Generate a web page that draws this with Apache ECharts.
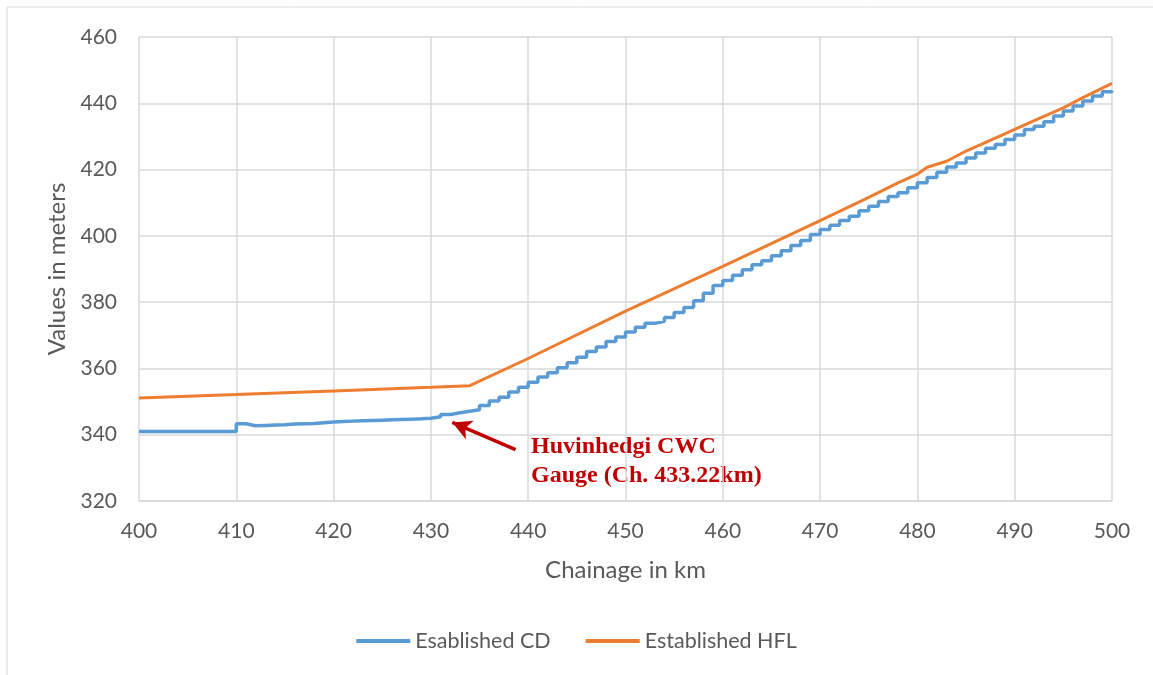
<!DOCTYPE html>
<html><head><meta charset="utf-8">
<script src="https://cdn.jsdelivr.net/npm/echarts@6/dist/echarts.min.js"></script>
<style>html,body{margin:0;padding:0;background:#fff}#c{width:1153px;height:675px}</style>
</head><body><div id="c"></div>
<script>
const cdKm = [400,410,411,412,413,414,415,416,417,418,419,420,421,422,423,424,425,426,427,428,429,430,431,432,433,434,435,436,437,438,439,440,441,442,443,444,445,446,447,448,449,450,451,452,453,454,455,456,457,458,459,460,461,462,463,464,465,466,467,468,469,470,471,472,473,474,475,476,477,478,479,480,481,482,483,484,485,486,487,488,489,490,491,492,493,494,495,496,497,498,499,500];
const cdVal = [341.0,343.3,342.7,342.8,342.9,343.0,343.2,343.3,343.4,343.6,343.8,344.0,344.1,344.2,344.3,344.4,344.5,344.6,344.7,344.8,345.0,345.4,346.1,346.6,347.1,347.5,348.8,350.2,351.3,352.9,354.3,355.8,357.4,358.7,360.2,361.7,363.4,365.1,366.5,368.1,369.5,371.0,372.4,373.6,374.2,375.4,376.9,378.4,380.4,382.7,385.0,386.5,388.1,389.8,391.3,392.5,394.0,395.5,397.1,398.6,400.4,401.9,403.2,404.6,405.9,407.6,408.9,410.4,411.9,413.0,414.5,416.0,417.6,419.2,420.8,422.0,423.5,425.0,426.4,427.6,429.1,430.4,432.1,433.1,434.4,436.2,437.7,439.2,440.7,442.2,443.5,443.8];
const hflKm = [400,410,420,430,434,440,450,460,470,475,478,480,481,483,485,488,490,492,495,497,500];
const hflVal = [351.1,352.1,353.2,354.3,354.8,363.0,377.3,390.8,404.6,411.6,416.0,418.6,420.7,422.5,425.6,429.5,432.1,434.8,438.6,441.7,446.0];
const seriesNames = ['Esablished CD','Established HFL'];
const annotationText = ['Huvinhedgi CWC','Gauge (Ch. 433.22km)'];
const arrowFrom = [438.7, 335.5];
const arrowTo = [432.2, 343.7];

const font = 'Lato, "Open Sans", sans-serif';
const chart = echarts.init(document.getElementById('c'));
chart.setOption({
  animation:false,
  backgroundColor:'#fff',
  grid:{left:139,right:41,top:37,bottom:174},
  xAxis:{type:'value',min:400,max:500,interval:10,
    name:'Chainage in km',nameLocation:'middle',nameGap:57,
    nameTextStyle:{color:'#595959',fontSize:24,fontFamily:font},
    axisLine:{show:true,lineStyle:{color:'#d9d9d9',width:1.5}},
    axisTick:{show:false},
    axisLabel:{color:'#595959',fontSize:21,fontFamily:font,margin:20},
    splitLine:{show:true,lineStyle:{color:'#d9d9d9',width:1.5}}},
  yAxis:{type:'value',min:320,max:460,interval:20,
    name:'Values in meters',nameLocation:'middle',nameGap:70,
    nameTextStyle:{color:'#595959',fontSize:24,fontFamily:font},
    axisLine:{show:false},axisTick:{show:false},
    axisLabel:{color:'#595959',fontSize:21,fontFamily:font,margin:22},
    splitLine:{show:true,lineStyle:{color:'#d9d9d9',width:1.5}}},
  legend:{bottom:18,left:'center',itemWidth:54,itemHeight:4,itemGap:35,
    textStyle:{color:'#595959',fontSize:21.5,fontFamily:font},
    icon:'rect',
    data:seriesNames},
  series:[
    {name:seriesNames[0],type:'line',step:'end',showSymbol:false,symbol:'none',
     data:cdKm.map((k,i)=>[k,cdVal[i]]),
     lineStyle:{color:'#5B9BD5',width:3.5},itemStyle:{color:'#5B9BD5'},
     markLine:{silent:true,symbol:['none','arrow'],symbolSize:[15,19],
       label:{show:false},
       lineStyle:{color:'#C00000',width:3.5,type:'solid'},
       data:[[{coord:arrowFrom},{coord:arrowTo}]]}},
    {name:seriesNames[1],type:'line',showSymbol:false,symbol:'none',
     data:hflKm.map((k,i)=>[k,hflVal[i]]),
     lineStyle:{color:'#ED7D31',width:3},itemStyle:{color:'#ED7D31'}}
  ],
  graphic:[
    {type:'rect',shape:{x:7,y:7,width:1200,height:700},style:{fill:'none',stroke:'#d9d9d9',lineWidth:1},silent:true},
    {type:'text',left:531,top:432,style:{text:annotationText.join('\n'),fill:'#C00000',
      font:'bold 24px "Liberation Serif", "Times New Roman", serif',lineHeight:29}}
  ]
});
</script></body></html>
